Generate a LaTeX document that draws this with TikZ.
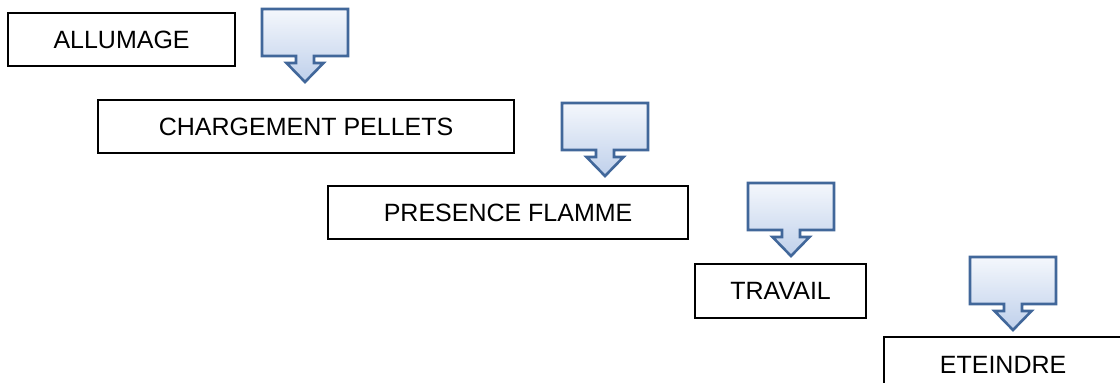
\documentclass[tikz,border=0pt]{standalone}
\usepackage{fontspec}
\setmainfont{Liberation Sans}
\definecolor{cborder}{HTML}{41679A}
\definecolor{ctop}{HTML}{F4F7FC}
\definecolor{cbot}{HTML}{BFD0EB}
\tikzset{
  stepbox/.style={draw=black, line width=2.2pt, fill=white, inner sep=0pt,
    font=\fontsize{25}{28}\selectfont, text=black},
  callshape/.style={draw=cborder, line width=2.6pt, line join=miter,
    top color=ctop, bottom color=cbot},
}
% #1 = left x, #2 = top y, #3 = name
\newcommand{\mycallout}[3]{%
  \begin{scope}[shift={(#1,#2)}]
    \shade[callshape] (0,0) -- (86,0) -- (86,47) -- (52,47) -- (52,54) -- (61.5,54)
      -- (43,73) coordinate (#3) -- (24.5,54) -- (34,54) -- (34,47) -- (0,47) -- cycle;
  \end{scope}}
\begin{document}
\begin{tikzpicture}[x=1pt,y=-1pt]
\useasboundingbox (0,0) rectangle (1120,383);
\clip (0,0) rectangle (1120,383);
\node[stepbox, minimum width=227pt, minimum height=53pt, anchor=north west] (b1) at (7,12) {ALLUMAGE};
\node[stepbox, minimum width=416pt, minimum height=53pt, anchor=north west] (b2) at (97,99) {CHARGEMENT PELLETS};
\node[stepbox, minimum width=360pt, minimum height=53pt, anchor=north west] (b3) at (327,185) {PRESENCE FLAMME};
\node[stepbox, minimum width=171pt, minimum height=54pt, anchor=north west] (b4) at (694,263) {TRAVAIL};
\node[stepbox, minimum width=250pt, minimum height=56pt, anchor=north west] (b5) at (883,336) {\hspace*{-12pt}ETEINDRE};
\mycallout{262}{9}{t1}
\mycallout{562}{103}{t2}
\mycallout{748}{183}{t3}
\mycallout{970}{257}{t4}
\end{tikzpicture}
\end{document}
